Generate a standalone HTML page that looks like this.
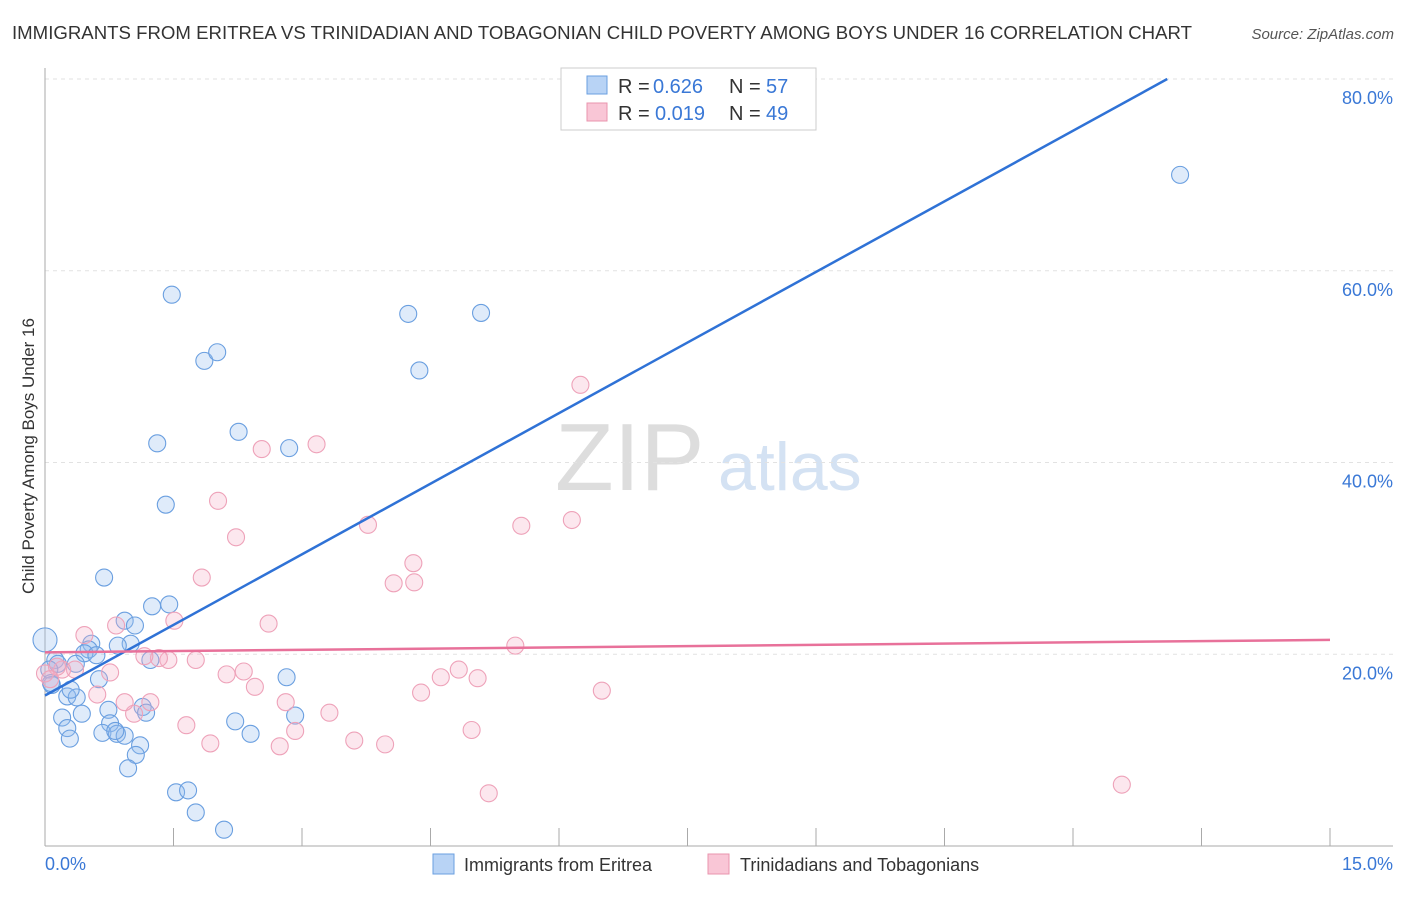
<!DOCTYPE html>
<html><head><meta charset="utf-8"><style>
body{margin:0;background:#fff;font-family:"Liberation Sans",sans-serif}
svg text{font-family:"Liberation Sans",sans-serif}
</style></head><body>
<svg id="c" width="1406" height="892">
<text x="12" y="39" font-size="18" fill="#333" textLength="1180" lengthAdjust="spacingAndGlyphs">IMMIGRANTS FROM ERITREA VS TRINIDADIAN AND TOBAGONIAN CHILD POVERTY AMONG BOYS UNDER 16 CORRELATION CHART</text>
<text x="1394" y="39" font-size="15" fill="#555" text-anchor="end" font-style="italic">Source: ZipAtlas.com</text>
<text x="34" y="456" font-size="17" fill="#333" text-anchor="middle" transform="rotate(-90 34 456)">Child Poverty Among Boys Under 16</text>
<text x="555" y="490" font-size="96" fill="#ddd" font-family="Liberation Serif">ZIP</text>
<text x="718" y="490" font-size="68" fill="#d4e2f3">atlas</text>
<g id="grid"></g><g id="pts"></g><g id="lines"></g>
<g>
<rect x="561" y="68" width="255" height="62" fill="#fff" stroke="#ccc"/>
<rect x="587" y="76" width="20" height="18" fill="#b8d3f5" stroke="#6a9fe0"/>
<rect x="587" y="103" width="20" height="18" fill="#f9c6d6" stroke="#e994ae"/>
<text x="618" y="93" font-size="20" fill="#333">R = </text><text x="653" y="93" font-size="20" fill="#3a78d6">0.626</text>
<text x="729" y="93" font-size="20" fill="#333">N = </text><text x="766" y="93" font-size="20" fill="#3a78d6">57</text>
<text x="618" y="120" font-size="20" fill="#333">R = </text><text x="655" y="120" font-size="20" fill="#3a78d6">0.019</text>
<text x="729" y="120" font-size="20" fill="#333">N = </text><text x="766" y="120" font-size="20" fill="#3a78d6">49</text>
</g>
<g>
<rect x="433" y="854" width="21" height="20" fill="#b8d3f5" stroke="#6a9fe0"/>
<text x="464" y="871" font-size="18" fill="#333">Immigrants from Eritrea</text>
<rect x="708" y="854" width="21" height="20" fill="#f9c6d6" stroke="#e994ae"/>
<text x="740" y="871" font-size="18" fill="#333">Trinidadians and Tobagonians</text>
</g>
<text x="45" y="870" font-size="18" fill="#3a78d6">0.0%</text>
<text x="1393" y="870" font-size="18" fill="#3a78d6" text-anchor="end">15.0%</text>
</svg>
<script>
const yTicks=[20,40,60,80];
const blueX=[0,0.69,1.48,1.86,2.01,1.31,1.41,2.26,2.85,4.24,5.09,4.37,13.25,0.93,1.05,1.25,1.45,1.0,0.85,0.54,0.51,0.46,0.6,1.23,0.12,0.15,0.05,0.36,0.08,0.26,0.63,0.37,0.74,1.14,0.43,0.2,0.26,0.29,0.76,0.67,0.84,0.93,1.11,1.06,0.97,1.53,1.67,1.76,2.09,2.82,2.22,2.4,2.92,1.18,0.82,0.07,0.3];
const blueY=[21.5,28,57.5,50.6,51.5,42,35.6,43.2,41.5,55.5,55.6,49.6,70,23.5,23,25,25.2,21.1,20.9,21.1,20.5,20.1,19.9,19.4,19.4,19,18.4,19,16.8,15.6,17.4,15.5,14.2,14.5,13.8,13.4,12.3,11.2,12.8,11.8,11.7,11.5,10.5,9.5,8.1,5.6,5.8,3.5,1.7,17.6,13,11.7,13.6,13.9,12,17,16.3];
const pinkX=[0,0.46,0.83,1.51,2.02,2.23,2.53,3.17,1.83,2.61,3.77,4.31,4.07,4.3,6.25,5.56,6.15,5.49,6.5,4.83,5.05,4.62,4.39,4.98,5.18,12.57,3.97,3.61,3.32,2.92,2.74,2.81,1.93,1.65,2.45,2.32,2.12,1.76,1.44,1.33,1.16,1.04,1.23,0.93,0.61,0.76,0.35,0.2,0.14,0.06];
const pinkY=[18,22,23,23.5,36,32.2,41.4,41.9,28,23.2,33.5,27.5,27.4,29.5,48.1,33.4,34,20.9,16.2,18.4,17.5,17.6,16,12.1,5.5,6.4,10.6,11,13.9,12,10.4,15,10.7,12.6,16.6,18.2,17.9,19.4,19.4,19.6,19.8,13.8,15,15,15.8,18.1,18.4,18.4,18.7,17.4];
const X=v=>45+v/15*1285, Y=v=>846-v*9.5875;
const ns='http://www.w3.org/2000/svg';
function mk(t,a,p){const e=document.createElementNS(ns,t);for(const k in a)e.setAttribute(k,a[k]);p.appendChild(e);return e;}
const g=document.getElementById('grid');
yTicks.forEach(t=>{
 const l=mk('line',{x1:45,x2:1393,y1:Y(t),y2:Y(t),stroke:'#e2e2e2','stroke-dasharray':'4,4'},g);
 
 
 const tx=mk('text',{x:1393,y:Y(t)+25,'font-size':18,fill:'#3a78d6','text-anchor':'end'},g);
 tx.textContent=t.toFixed(1)+'%';
 
 
});
mk('line',{x1:45,x2:45,y1:68,y2:846,stroke:'#aaa'},g);
mk('line',{x1:45,x2:1393,y1:846,y2:846,stroke:'#aaa'},g);
for(let i=0;i<=10;i++){const t=mk('line',{x1:X(i*1.5),x2:X(i*1.5),y1:828,y2:846,stroke:'#aaa'},g);
 
 }
const p=document.getElementById('pts');
blueX.forEach((v,i)=>{const c=mk('circle',{cx:X(v),cy:Y(blueY[i]),r:i==0?12:8.5,fill:'rgba(150,190,240,0.3)',stroke:'#6a9fe0','stroke-width':1.1},p);
 
 });
pinkX.forEach((v,i)=>{const c=mk('circle',{cx:X(v),cy:Y(pinkY[i]),r:8.5,fill:'rgba(246,175,198,0.3)',stroke:'#eea2b9','stroke-width':1.1},p);
 
 });
const L=document.getElementById('lines');
const b=mk('line',{x1:X(0),y1:Y(15.7),x2:X(13.1),y2:Y(80),stroke:'#2f72d6','stroke-width':2.5},L);


const pk=mk('line',{x1:X(0),y1:Y(20.2),x2:X(15),y2:Y(21.5),stroke:'#e8719a','stroke-width':2.5},L);


</script>
</body></html>
